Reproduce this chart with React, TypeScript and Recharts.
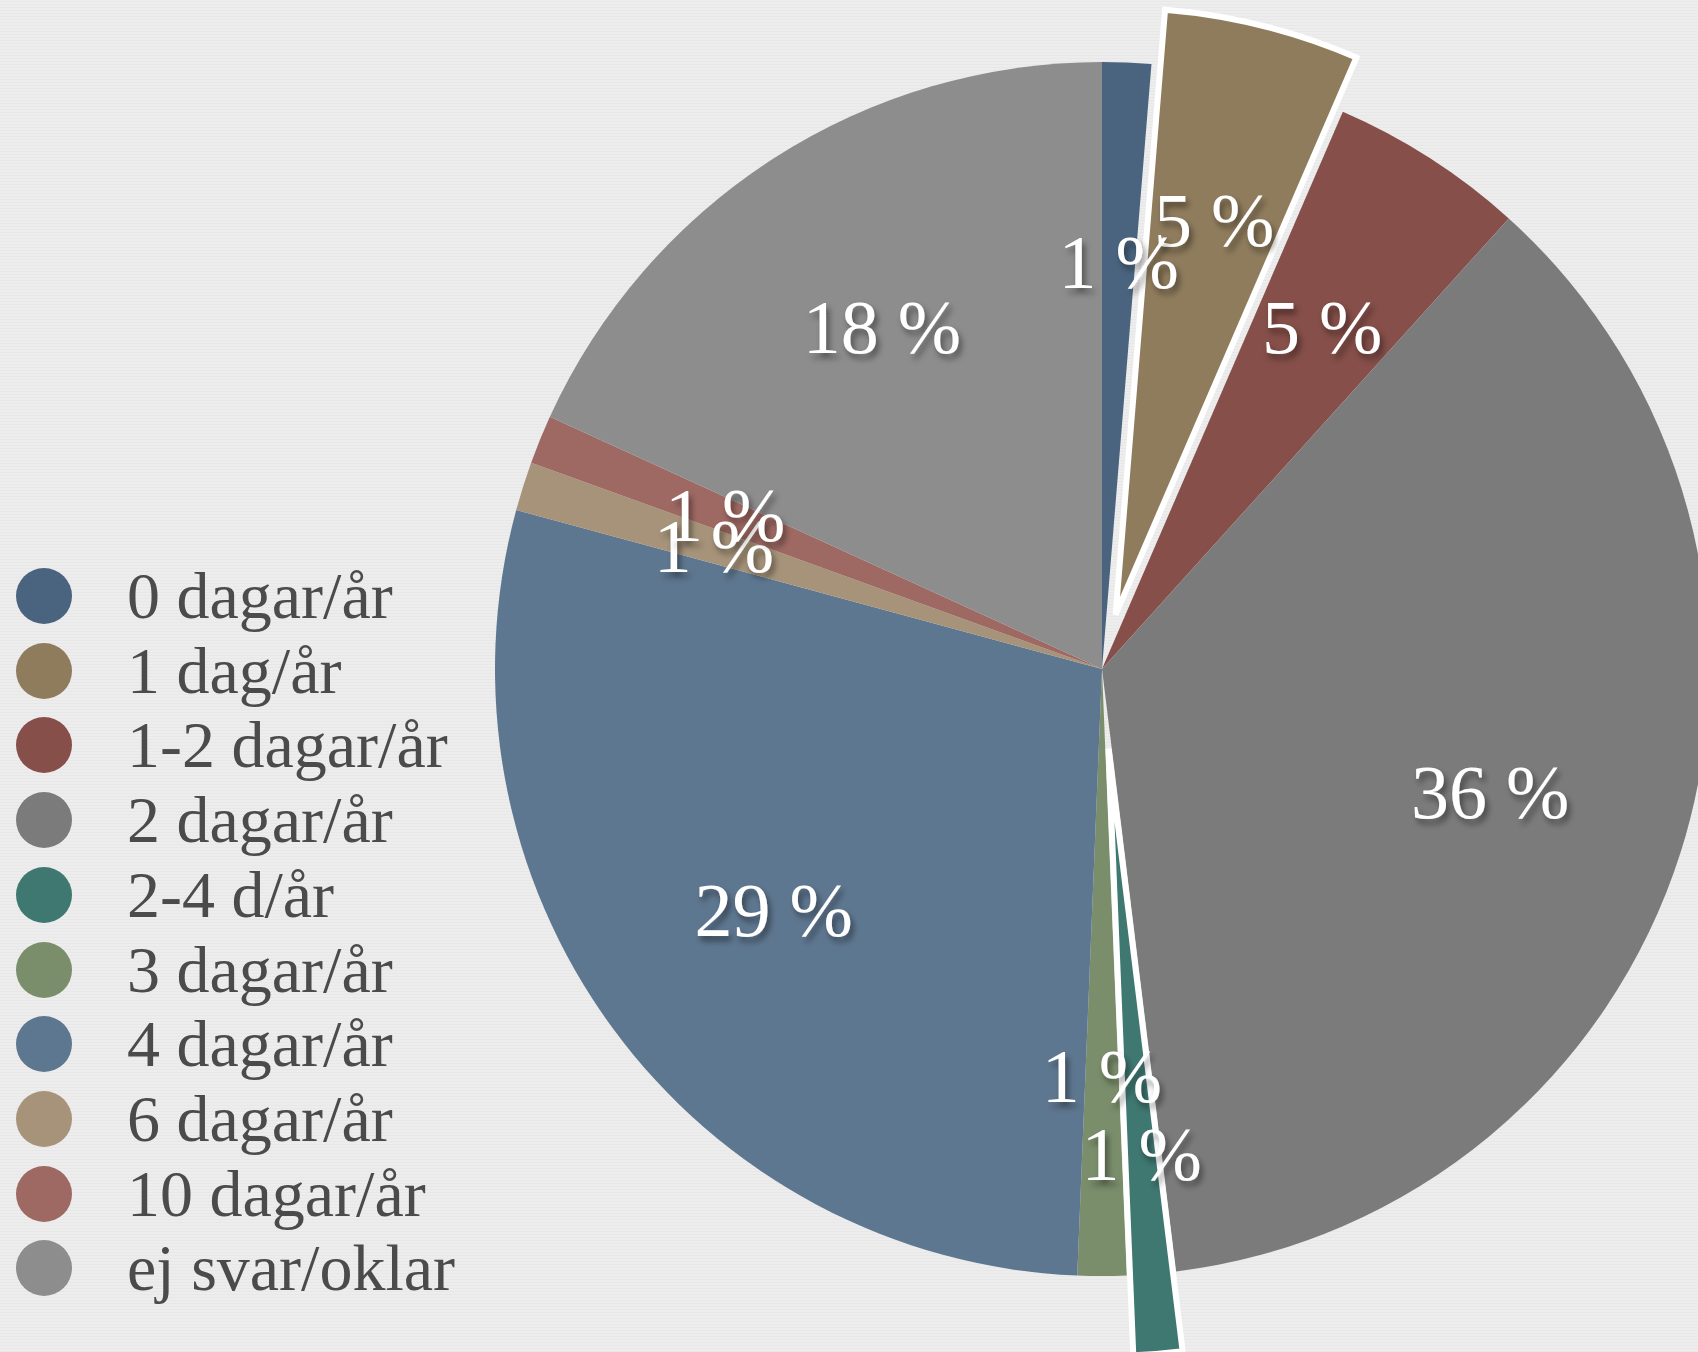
import React from 'react';
import { PieChart, Pie, Cell } from 'recharts';

const CATEGORIES = [
  '0 dagar/år',
  '1 dag/år',
  '1-2 dagar/år',
  '2 dagar/år',
  '2-4 d/år',
  '3 dagar/år',
  '4 dagar/år',
  '6 dagar/år',
  '10 dagar/år',
  'ej svar/oklar',
];
const COUNTS = [1, 4, 4, 28, 1, 1, 22, 1, 1, 14];
const COLORS = ['#4a6480', '#8f7c5d', '#864f49', '#7b7b7b', '#3f7771', '#7a8e6b', '#5e7790', '#a6937a', '#9f6963', '#8d8d8d'];

// pulled-out slices -> distance in px
const EXPLODED: Record<string, number> = { '1 dag/år': 56, '2-4 d/år': 80 };

const W = 1698;
const H = 1352;
const CX = 1102;
const CY = 669;
const R = 607;
const LABEL_R = 407;
const RAD = Math.PI / 180;

const data = CATEGORIES.map((name, i) => ({ name, value: COUNTS[i] }));
const total = COUNTS.reduce((a, b) => a + b, 0);

// clockwise from 12 o'clock, degrees
const midAngleOf = (idx: number) => {
  const before = COUNTS.slice(0, idx).reduce((a, b) => a + b, 0);
  return ((before + COUNTS[idx] / 2) / total) * 360;
};

const makeLabel = (only: string | null) => (props: any) => {
  const { cx, cy, midAngle, percent, index } = props;
  const name = CATEGORIES[index];
  if (only ? name !== only : EXPLODED[name] !== undefined) return null;
  const x = cx + LABEL_R * Math.cos(-midAngle * RAD);
  const y = cy + LABEL_R * Math.sin(-midAngle * RAD);
  return (
    <text
      key={`lbl-${index}`}
      x={x}
      y={y}
      fill="#ffffff"
      textAnchor="middle"
      dominantBaseline="central"
      fontFamily="'Liberation Serif', 'DejaVu Serif', serif"
      fontSize={76}
      filter="url(#lblShadow)"
    >
      {`${Math.round(percent * 100)} %`}
    </text>
  );
};

export default function App() {
  const explodedNames = Object.keys(EXPLODED);

  return (
    <div
      style={{
        position: 'fixed',
        left: 0,
        top: 0,
        width: W,
        height: H,
        overflow: 'hidden',
        backgroundColor: '#ededed',
        backgroundImage:
          'repeating-linear-gradient(0deg, rgba(0,0,0,0.025) 0px, rgba(0,0,0,0.025) 1px, transparent 1px, transparent 3px)',
      }}
    >
      <svg width={0} height={0} style={{ position: 'absolute' }}>
        <defs>
          <filter id="lblShadow" x="-20%" y="-20%" width="140%" height="160%">
            <feDropShadow dx="3" dy="5" stdDeviation="3" floodColor="#000" floodOpacity="0.45" />
          </filter>
        </defs>
      </svg>

      <div style={{ position: 'absolute', left: 0, top: 0 }}>
        <PieChart width={W} height={H} margin={{ top: 0, right: 0, bottom: 0, left: 0 }}>
          {/* base pie, exploded slices left empty */}
          <Pie
            data={data}
            dataKey="value"
            nameKey="name"
            cx={CX}
            cy={CY}
            outerRadius={R}
            startAngle={90}
            endAngle={-270}
            stroke="none"
            labelLine={false}
            isAnimationActive={false}
          >
            {data.map((d, i) => (
              <Cell key={`c-${i}`} fill={EXPLODED[d.name] !== undefined ? 'none' : COLORS[i]} stroke="none" />
            ))}
          </Pie>

          {/* pulled-out slices */}
          {explodedNames.map((nm) => {
            const idx = CATEGORIES.indexOf(nm);
            const a = midAngleOf(idx) * RAD;
            const d = EXPLODED[nm];
            return (
              <Pie
                key={`ex-${nm}`}
                data={data}
                dataKey="value"
                nameKey="name"
                cx={CX + d * Math.sin(a)}
                cy={CY - d * Math.cos(a)}
                outerRadius={R}
                startAngle={90}
                endAngle={-270}
                labelLine={false}
                label={makeLabel(nm)}
                isAnimationActive={false}
              >
                {data.map((e, i) => (
                  <Cell
                    key={`e-${i}`}
                    fill={i === idx ? COLORS[i] : 'none'}
                    stroke={i === idx ? '#ffffff' : 'none'}
                    strokeWidth={i === idx ? 6 : 0}
                  />
                ))}
              </Pie>
            );
          })}

          {/* labels on top */}
          <Pie
            data={data}
            dataKey="value"
            nameKey="name"
            cx={CX}
            cy={CY}
            outerRadius={R}
            startAngle={90}
            endAngle={-270}
            stroke="none"
            labelLine={false}
            label={makeLabel(null)}
            isAnimationActive={false}
          >
            {data.map((d, i) => (
              <Cell key={`l-${i}`} fill="none" stroke="none" />
            ))}
          </Pie>
        </PieChart>
      </div>

      {/* legend */}
      {CATEGORIES.map((name, i) => (
        <div
          key={name}
          style={{
            position: 'absolute',
            left: 16,
            top: 596 - 37 + i * 74.7,
            height: 74,
            display: 'flex',
            alignItems: 'center',
          }}
        >
          <div style={{ width: 56, height: 56, borderRadius: 28, backgroundColor: COLORS[i] }} />
          <div
            style={{
              marginLeft: 55,
              fontFamily: "'Liberation Serif', 'DejaVu Serif', serif",
              fontSize: 66,
              lineHeight: 1,
              color: '#4b4b4b',
              whiteSpace: 'nowrap',
            }}
          >
            {name}
          </div>
        </div>
      ))}
    </div>
  );
}
